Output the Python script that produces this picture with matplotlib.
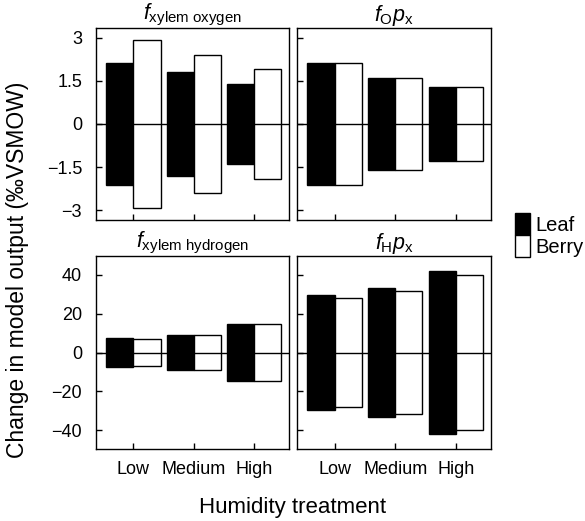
import numpy as np
import matplotlib.pyplot as plt
from matplotlib.patches import Patch

plt.rcParams['font.family'] = 'Liberation Sans'
plt.rcParams['mathtext.fontset'] = 'custom'
plt.rcParams['mathtext.rm'] = 'Liberation Sans'
plt.rcParams['mathtext.it'] = 'Liberation Sans:italic'
plt.rcParams['axes.linewidth'] = 1.0

treatments = ['Low', 'Medium', 'High']

# change in model output is symmetric around zero, so only the magnitude is kept
xylem_oxygen_leaf = [2.1, 1.8, 1.4]
xylem_oxygen_berry = [2.9, 2.4, 1.9]
fo_px_leaf = [2.1, 1.6, 1.3]
fo_px_berry = [2.1, 1.6, 1.3]
xylem_hydrogen_leaf = [7.3, 9.2, 14.8]
xylem_hydrogen_berry = [6.9, 8.8, 14.6]
fh_px_leaf = [29.3, 33.2, 41.6]
fh_px_berry = [28.2, 31.8, 39.7]

oxygen_ticks = [-3, -1.5, 0, 1.5, 3]
hydrogen_ticks = [-40, -20, 0, 20, 40]

W, H = 585, 521
fig = plt.figure(figsize=(W / 100, H / 100), dpi=100)


def panel(px_left, px_top, px_right, px_bottom):
    return fig.add_axes([px_left / W, 1 - px_bottom / H,
                         (px_right - px_left) / W, (px_bottom - px_top) / H])


ax_xo = panel(96, 28, 289, 220)
ax_fo = panel(297, 28, 491, 220)
ax_xh = panel(96, 256, 289, 449)
ax_fh = panel(297, 256, 491, 449)

panels = [
    (ax_xo, xylem_oxygen_leaf, xylem_oxygen_berry, r'$f_{\mathrm{xylem\ oxygen}}$', 3.33, oxygen_ticks),
    (ax_fo, fo_px_leaf, fo_px_berry, r'$f_{\mathrm{O}}p_{\mathrm{x}}$', 3.33, oxygen_ticks),
    (ax_xh, xylem_hydrogen_leaf, xylem_hydrogen_berry, r'$f_{\mathrm{xylem\ hydrogen}}$', 49.5, hydrogen_ticks),
    (ax_fh, fh_px_leaf, fh_px_berry, r'$f_{\mathrm{H}}p_{\mathrm{x}}$', 49.5, hydrogen_ticks),
]

x = np.arange(1, len(treatments) + 1)
w = 0.45

for ax, leaf, berry, title, lim, ticks in panels:
    leaf = np.array(leaf)
    berry = np.array(berry)
    ax.bar(x - w / 2, 2 * leaf, bottom=-leaf, width=w, color='black',
           edgecolor='black', linewidth=1.0, zorder=2)
    ax.bar(x + w / 2, 2 * berry, bottom=-berry, width=w, color='white',
           edgecolor='black', linewidth=1.0, zorder=2)
    ax.axhline(0, color='black', linewidth=1.0, zorder=3)
    ax.set_xlim(0.38, 3.58)
    ax.set_ylim(-lim, lim)
    ax.set_yticks(ticks)
    ax.set_xticks(x)
    ax.tick_params(direction='in', length=4, width=1.0, labelsize=13)
    ax.tick_params(axis='y', pad=10)
    ax.tick_params(axis='x', pad=9)
    ax.set_title(title, fontsize=15.5, pad=2)

for ax in (ax_xo, ax_fo):
    ax.set_xticklabels([])
for ax in (ax_fo, ax_fh):
    ax.set_yticklabels([])
for ax in (ax_xh, ax_fh):
    ax.set_xticklabels(treatments)

ax_xo.set_yticklabels(['\u22123', '\u22121.5', '0', '1.5', '3'])

fig.text(293 / W, 1 - 507 / H, 'Humidity treatment', ha='center', va='center', fontsize=16)
fig.text(18 / W, 1 - 270 / H, 'Change in model output (\u2030VSMOW)', ha='center', va='center',
         rotation=90, fontsize=16.5)

handles = [Patch(facecolor='black', edgecolor='black', linewidth=1.0),
           Patch(facecolor='white', edgecolor='black', linewidth=1.0)]
fig.legend(handles, ['Leaf', 'Berry'], loc='center left', bbox_to_anchor=(515 / W, 1 - 235 / H),
           frameon=False, fontsize=14.5, handlelength=0.75, handleheight=1.29,
           handletextpad=0.25, labelspacing=0.0, borderpad=0.0, borderaxespad=0.0)

fig.savefig('out.png', dpi=100)
